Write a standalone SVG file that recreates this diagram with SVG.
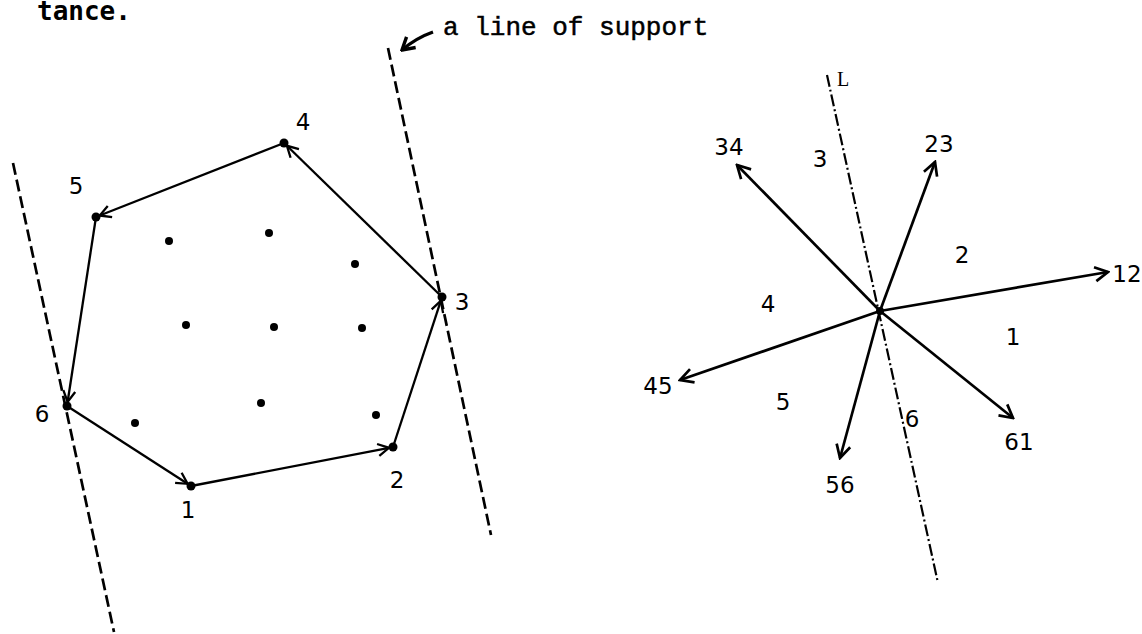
<svg xmlns="http://www.w3.org/2000/svg" width="1142" height="634" viewBox="0 0 1142 634">
<style>
.txt{font-family:"Liberation Mono","DejaVu Sans Mono",monospace;font-size:26px;fill:#000;stroke:#000;stroke-width:0.5}
.head{font-family:"DejaVu Sans Mono","Liberation Mono",monospace;font-size:26px;font-weight:bold;fill:#000}
.num{font-family:"DejaVu Sans","Liberation Sans",sans-serif;font-size:23px;fill:#000;text-anchor:middle}
.edge{stroke:#000;stroke-width:2.3;fill:none;marker-end:url(#ah)}
.ray{stroke:#000;stroke-width:2.7;fill:none;marker-end:url(#ah2)}
.support{stroke:#000;stroke-width:2.7;fill:none;stroke-dasharray:12 5}
.lline{stroke:#000;stroke-width:2.2;fill:none;stroke-dasharray:12 3 2 3}
.dot{fill:#000}
</style>
<defs>
<marker id="ah" viewBox="-14 -8 16 16" refX="0" refY="0" markerWidth="16" markerHeight="16" markerUnits="userSpaceOnUse" orient="auto">
<path d="M-11,-6 L0,0 L-11,6" fill="none" stroke="#000" stroke-width="2.3"/>
</marker>
<marker id="ah2" viewBox="-16 -9 18 18" refX="0" refY="0" markerWidth="18" markerHeight="18" markerUnits="userSpaceOnUse" orient="auto">
<path d="M-13,-7 L0,0 L-13,7" fill="none" stroke="#000" stroke-width="2.7"/>
</marker>
<marker id="ah3" viewBox="-16 -9 18 18" refX="0" refY="0" markerWidth="18" markerHeight="18" markerUnits="userSpaceOnUse" orient="auto">
<path d="M-12,-7 L0,0 L-12,7" fill="none" stroke="#000" stroke-width="3.4"/>
</marker>
</defs>
<rect width="1142" height="634" fill="#fff"/>

<text class="head" x="37" y="20">tance.</text>
<text class="txt" x="443" y="35">a line of support</text>

<g id="connectors">
<path d="M433,32 Q416,38 402,50" stroke="#000" stroke-width="3.4" fill="none" marker-end="url(#ah3)"/>
<line class="support" x1="13" y1="163" x2="114" y2="632"/>
<line class="support" x1="388" y1="48" x2="491" y2="535"/>
<line class="edge" x1="67" y1="406" x2="187.6" y2="483.8"/>
<line class="edge" x1="191" y1="486" x2="389" y2="447.8"/>
<line class="edge" x1="393" y1="447" x2="440.8" y2="300.8"/>
<line class="edge" x1="442" y1="297" x2="286.9" y2="145.8"/>
<line class="edge" x1="284" y1="143" x2="99.7" y2="215.5"/>
<line class="edge" x1="96" y1="217" x2="67.6" y2="402"/>
<line class="lline" x1="827" y1="75" x2="938" y2="583"/>
<line class="ray" x1="880" y1="311" x2="737" y2="165"/>
<line class="ray" x1="880" y1="311" x2="935" y2="162"/>
<line class="ray" x1="880" y1="311" x2="1108" y2="272"/>
<line class="ray" x1="880" y1="311" x2="1013" y2="418"/>
<line class="ray" x1="880" y1="311" x2="840" y2="458"/>
<line class="ray" x1="880" y1="311" x2="680" y2="380"/>
</g>

<g id="p1"><circle class="dot" cx="191" cy="486" r="4.5"/><text class="num" x="188" y="518">1</text></g>
<g id="p2"><circle class="dot" cx="393" cy="447" r="4.5"/><text class="num" x="397" y="488">2</text></g>
<g id="p3"><circle class="dot" cx="442" cy="297" r="4.5"/><text class="num" x="462" y="310">3</text></g>
<g id="p4"><circle class="dot" cx="284" cy="143" r="4.5"/><text class="num" x="303" y="130">4</text></g>
<g id="p5"><circle class="dot" cx="96" cy="217" r="4.5"/><text class="num" x="76" y="194">5</text></g>
<g id="p6"><circle class="dot" cx="67" cy="406" r="4.5"/><text class="num" x="42" y="422">6</text></g>

<g id="interior">
<circle class="dot" cx="169" cy="241" r="4"/>
<circle class="dot" cx="269" cy="233" r="4"/>
<circle class="dot" cx="355" cy="264" r="4"/>
<circle class="dot" cx="186" cy="325" r="4"/>
<circle class="dot" cx="274" cy="327" r="4"/>
<circle class="dot" cx="362" cy="328" r="4"/>
<circle class="dot" cx="261" cy="403" r="4"/>
<circle class="dot" cx="376" cy="415" r="4"/>
<circle class="dot" cx="135" cy="423" r="4"/>
</g>

<g id="center"><circle class="dot" cx="880" cy="311" r="4"/></g>
<g id="lineL"><text x="837" y="86" font-family="'Liberation Serif',serif" font-size="20" fill="#000">L</text></g>
<g id="ray-labels">
<text class="num" x="729" y="155">34</text>
<text class="num" x="939" y="152">23</text>
<text class="num" x="1127" y="282">12</text>
<text class="num" x="1019" y="450">61</text>
<text class="num" x="840" y="493">56</text>
<text class="num" x="658" y="394">45</text>
</g>
<g id="region-labels">
<text class="num" x="1013" y="345">1</text>
<text class="num" x="962" y="263">2</text>
<text class="num" x="820" y="167">3</text>
<text class="num" x="768" y="312">4</text>
<text class="num" x="783" y="410">5</text>
<text class="num" x="912" y="427">6</text>
</g>
</svg>
